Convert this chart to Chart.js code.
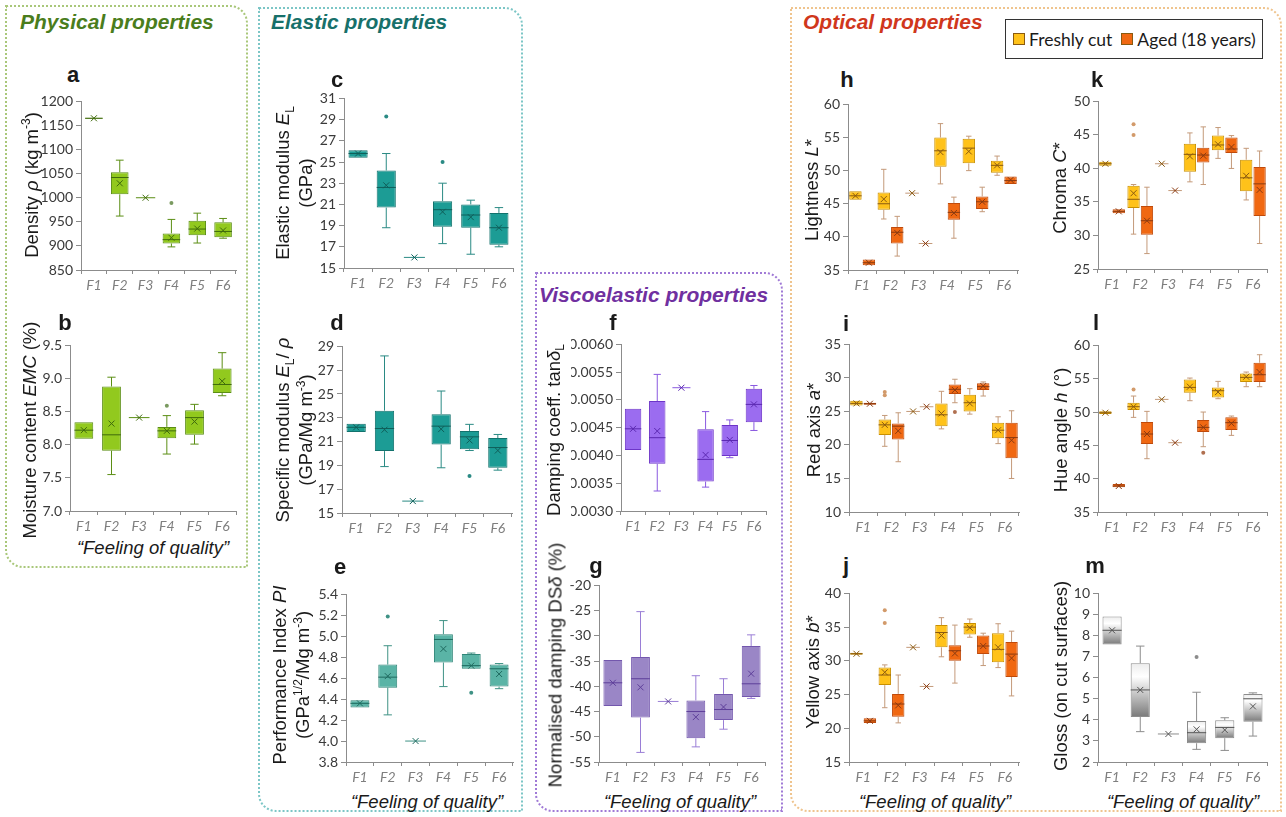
<!DOCTYPE html>
<html>
<head>
<meta charset="utf-8">
<script src="https://cdn.jsdelivr.net/npm/chart.js@4.4.0/dist/chart.umd.min.js"></script>
<style>
body{margin:0;background:#fff;width:1286px;height:817px;position:relative;overflow:hidden;font-family:"Liberation Sans",Arial,sans-serif;color:#1a1a1a;}
.frame{position:absolute;border:2px dotted;border-radius:0 18px 0 18px;box-sizing:border-box;}
.ttl{position:absolute;font-weight:bold;font-style:italic;font-size:21px;white-space:nowrap;line-height:24px;}
.let{position:absolute;font-weight:bold;font-size:22px;transform:translate(-50%,-50%);}
.yt{position:absolute;font-size:18.5px;white-space:nowrap;text-align:center;line-height:23px;transform:translate(-50%,-50%) rotate(-90deg);}
.fq{position:absolute;font-style:italic;font-size:18.5px;transform:translate(-50%,-50%);white-space:nowrap;}
sup,sub{font-size:0.65em;line-height:0;}
canvas{position:absolute;}
#legend{position:absolute;left:1005px;top:19px;width:258px;height:40px;border:1px solid #333;box-sizing:border-box;display:flex;align-items:center;font-family:Lato,sans-serif;font-size:17.5px;white-space:nowrap;}
#legend span.sq{display:inline-block;flex:none;width:10px;height:10px;border:1px solid #8a5a10;margin:0 4px 0 7px;}
</style>
</head>
<body>
<div class="frame" style="left:5px;top:5px;width:243px;height:563px;border-color:#a9c77a"></div>
<div class="frame" style="left:258px;top:7px;width:265px;height:805px;border-color:#7cc6c6"></div>
<div class="frame" style="left:535px;top:272px;width:248px;height:540px;border-color:#a07ad6"></div>
<div class="frame" style="left:790px;top:7px;width:492px;height:805px;border-color:#efc48e"></div>

<div class="ttl" style="left:20px;top:10px;color:#4a7d1c">Physical properties</div>
<div class="ttl" style="left:271px;top:10px;color:#17706a">Elastic properties</div>
<div class="ttl" style="left:539px;top:283px;color:#7030a0">Viscoelastic properties</div>
<div class="ttl" style="left:803px;top:10px;color:#d0371c">Optical properties</div>

<div id="legend"><span class="sq" style="background:#ffc21a"></span><span>Freshly cut</span><span class="sq" style="background:#f06812;margin-left:9px"></span><span>Aged (18 years)</span></div>

<script>
const categories = ['F1', 'F2', 'F3', 'F4', 'F5', 'F6'];
// each row: [min, q1, median, q3, max, mean]
const densityBox = [[1164, 1164, 1165, 1166, 1166, 1165], [962, 1007, 1042, 1053, 1078, 1030], [1000, 1000, 1000, 1000, 1000, 1000], [898, 905, 913, 926, 955, 917], [906, 922, 935, 952, 968, 936], [916, 918, 930, 949, 957, 932]];
const densityOut = [[], [], [], [989], [], []];
const emcBox = [[8.09, 8.09, 8.22, 8.34, 8.34, 8.22], [7.55, 7.91, 8.15, 8.88, 9.02, 8.32], [8.41, 8.41, 8.41, 8.41, 8.41, 8.41], [7.86, 8.10, 8.21, 8.27, 8.44, 8.21], [8.01, 8.15, 8.41, 8.52, 8.61, 8.35], [8.74, 8.78, 8.91, 9.15, 9.39, 8.96]];
const emcOut = [[], [], [], [8.59], [], []];
const modulusBox = [[25.4, 25.4, 25.8, 26.1, 26.1, 25.8], [18.8, 20.7, 22.6, 24.2, 25.8, 22.8], [16.0, 16.0, 16.0, 16.0, 16.0, 16.0], [17.3, 18.9, 20.5, 21.3, 23.0, 20.3], [16.3, 18.8, 20.0, 21.0, 21.4, 19.8], [17.0, 17.2, 18.8, 20.2, 20.7, 18.8]];
const modulusOut = [[], [29.3], [], [25.0], [], []];
const specificBox = [[21.8, 21.8, 22.2, 22.5, 22.5, 22.2], [18.9, 20.2, 22.1, 23.6, 28.2, 22.0], [16.0, 16.0, 16.0, 16.0, 16.0, 16.0], [18.8, 20.75, 22.3, 23.3, 25.25, 22.05], [20.25, 20.35, 21.4, 21.9, 22.45, 21.1], [18.6, 18.8, 20.5, 21.3, 21.6, 20.25]];
const specificOut = [[], [], [], [], [18.1], []];
const perfBox = [[4.32, 4.32, 4.36, 4.39, 4.39, 4.36], [4.25, 4.51, 4.61, 4.73, 4.91, 4.62], [4.0, 4.0, 4.0, 4.0, 4.0, 4.0], [4.52, 4.75, 4.97, 5.02, 5.15, 4.88], [4.69, 4.69, 4.72, 4.83, 4.84, 4.72], [4.50, 4.52, 4.69, 4.73, 4.74, 4.64]];
const perfOut = [[], [5.19], [], [], [4.46], []];
const tanBox = [[0.00410, 0.00410, 0.00448, 0.00484, 0.00484, 0.00448], [0.00336, 0.00385, 0.00432, 0.00498, 0.00546, 0.00444], [0.00522, 0.00522, 0.00522, 0.00522, 0.00522, 0.00522], [0.00343, 0.00353, 0.00393, 0.00447, 0.00479, 0.00401], [0.00396, 0.00399, 0.00427, 0.00455, 0.00464, 0.00428], [0.00445, 0.00460, 0.00492, 0.00520, 0.00526, 0.00492]];
const dampBox = [[-43.9, -43.9, -39.3, -34.8, -34.8, -39.3], [-53.1, -46.2, -38.5, -34.2, -25.2, -40.2], [-43.0, -43.0, -43.0, -43.0, -43.0, -43.0], [-52.0, -50.3, -45.0, -42.8, -37.9, -46.1], [-48.5, -46.7, -44.6, -41.5, -38.5, -44.1], [-42.4, -42.1, -39.5, -32.0, -29.8, -37.5]];
const lightFresh = [[45.6, 45.6, 46.2, 46.9, 46.9, 46.2], [42.7, 44.1, 45.0, 46.7, 50.2, 45.7], [46.6, 46.6, 46.6, 46.6, 46.6, 46.6], [48.0, 50.6, 53.0, 55.0, 57.1, 52.8], [50.0, 51.1, 53.4, 54.8, 55.2, 52.9], [49.3, 49.7, 50.8, 51.5, 52.2, 50.8]];
const lightAged = [[35.7, 35.7, 36.1, 36.6, 36.6, 36.1], [37.1, 39.0, 40.7, 41.5, 43.1, 40.6], [39.0, 39.0, 39.0, 39.0, 39.0, 39.0], [39.8, 42.6, 43.7, 45.1, 46.0, 43.6], [43.8, 44.2, 45.3, 46.1, 47.5, 45.3], [48.0, 48.0, 48.5, 49.1, 49.1, 48.6]];
const chromaFresh = [[40.4, 40.4, 40.7, 41.0, 41.0, 40.7], [30.2, 34.1, 35.4, 37.4, 37.6, 36.3], [40.7, 40.7, 40.7, 40.7, 40.7, 40.7], [38.0, 39.5, 42.1, 43.7, 45.3, 41.8], [41.5, 42.7, 43.5, 44.9, 46.1, 43.6], [35.3, 36.6, 38.6, 41.3, 43.0, 38.9]];
const chromaFreshOut = [[], [45.0, 46.6], [], [], [], []];
const chromaAged = [[33.3, 33.3, 33.6, 33.9, 33.9, 33.6], [27.3, 30.1, 32.2, 34.4, 37.2, 32.2], [36.7, 36.7, 36.7, 36.7, 36.7, 36.7], [37.6, 40.9, 42.0, 43.1, 46.2, 41.9], [40.0, 42.3, 42.9, 44.6, 44.9, 43.2], [28.8, 32.9, 37.7, 40.2, 42.6, 36.8]];
const redFresh = [[25.9, 25.9, 26.2, 26.6, 26.6, 26.2], [19.8, 21.5, 23.0, 23.8, 24.4, 23.0], [25.0, 25.0, 25.0, 25.0, 25.0, 25.0], [22.4, 22.8, 24.5, 26.2, 28.0, 24.7], [24.6, 25.0, 26.3, 27.5, 28.4, 26.2], [20.2, 21.0, 22.2, 23.3, 24.2, 22.2]];
const redFreshOut = [[], [27.4, 27.9], [], [], [], []];
const redAged = [[26.0, 26.0, 26.15, 26.3, 26.3, 26.15], [17.5, 20.8, 22.8, 23.2, 24.8, 22.1], [25.7, 25.7, 25.7, 25.7, 25.7, 25.7], [26.3, 27.6, 28.3, 29.0, 29.8, 28.2], [27.3, 28.2, 28.7, 29.2, 29.4, 28.8], [15.0, 18.0, 21.1, 23.3, 25.1, 20.7]];
const redAgedOut = [[], [], [], [24.9], [], []];
const hueFresh = [[49.7, 49.7, 49.9, 50.1, 50.1, 49.9], [49.2, 50.3, 50.8, 51.4, 52.4, 50.8], [51.9, 51.9, 51.9, 51.9, 51.9, 51.9], [51.7, 52.9, 53.7, 54.9, 55.1, 53.8], [52.0, 52.2, 53.2, 53.7, 54.6, 53.0], [53.8, 54.5, 55.2, 55.8, 56.0, 55.3]];
const hueFreshOut = [[], [53.4], [], [], [], []];
const hueAged = [[38.7, 38.7, 38.9, 39.2, 39.2, 38.9], [43.0, 45.2, 46.7, 48.5, 50.1, 46.7], [45.4, 45.4, 45.4, 45.4, 45.4, 45.4], [44.8, 47.0, 47.7, 48.8, 50.0, 47.7], [46.5, 47.3, 48.4, 49.2, 49.4, 48.3], [53.8, 54.5, 55.6, 57.4, 58.6, 56.0]];
const hueAgedOut = [[], [], [], [43.9], [], []];
const yellowFresh = [[30.9, 30.9, 31.05, 31.2, 31.2, 31.05], [23.05, 26.4, 27.9, 29.0, 29.4, 28.3], [32.0, 32.0, 32.0, 32.0, 32.0, 32.0], [30.6, 32.0, 34.2, 35.3, 36.4, 33.75], [33.5, 33.9, 35.0, 35.6, 36.2, 34.9], [29.0, 29.8, 31.7, 34.1, 35.5, 32.0]];
const yellowFreshOut = [[], [35.6, 37.5], [], [], [], []];
const yellowAged = [[20.8, 20.8, 21.1, 21.5, 21.5, 21.1], [20.8, 21.7, 23.6, 25.1, 27.9, 23.4], [26.2, 26.2, 26.2, 26.2, 26.2, 26.2], [26.7, 30.0, 31.5, 32.3, 35.3, 31.1], [29.3, 31.0, 32.2, 33.75, 34.1, 32.2], [24.8, 27.6, 31.0, 32.8, 34.4, 30.4]];
const glossBox = [[7.58, 7.58, 8.25, 8.9, 8.9, 8.25], [3.44, 4.14, 5.42, 6.69, 7.5, 5.42], [3.33, 3.33, 3.33, 3.33, 3.33, 3.33], [2.6, 2.89, 3.39, 3.94, 5.31, 3.55], [2.55, 3.13, 3.64, 3.98, 4.1, 3.52], [3.23, 3.91, 5.0, 5.23, 5.28, 4.64]];
const glossOut = [[], [], [], [6.98], [], []];
const none = [[], [], [], [], [], []];

// y axis ranges: [min, max, step]
const densityTicks = [850, 1200, 50];
const emcTicks = [7.0, 9.5, 0.5];
const modulusTicks = [15, 31, 2];
const specificTicks = [15, 29, 2];
const perfTicks = [3.8, 5.4, 0.2];
const tanTicks = [0.003, 0.006, 0.0005];
const dampTicks = [-55, -20, 5];
const lightTicks = [35, 60, 5];
const chromaTicks = [25, 50, 5];
const redTicks = [10, 35, 5];
const hueTicks = [35, 60, 5];
const yellowTicks = [15, 40, 5];
const glossTicks = [2, 10, 1];

const AX = '#8c8c8c';
const YW = 50, PT = 10, PR = 4, XH = 26;

function glossFill(c) {
  if (c.type !== 'data' || !c.chart.chartArea) return '#cccccc';
  const y = c.chart.scales.y;
  const g = c.chart.ctx.createLinearGradient(0, y.getPixelForValue(c.raw[1]), 0, y.getPixelForValue(c.raw[0]));
  g.addColorStop(0, '#ececec');
  g.addColorStop(0.25, '#ffffff');
  g.addColorStop(1, '#7a7a7a');
  return g;
}

const GREEN = {fill: '#92c91e', line: '#5b8e14', whisker: '#5b8e14', median: '#3f6a0c', dot: '#7a9a60'};
const TEAL = {fill: '#1c9c95', line: '#13726d', whisker: '#2a8a84', median: '#0f5f5a', dot: '#2a8a84'};
const TEAL2 = {fill: '#5ab4a6', line: '#2f8578', whisker: '#3f9285', median: '#1f6b60', dot: '#3f9285'};
const VIOLET = {fill: '#9b6cf0', line: '#6d35c8', whisker: '#8a5ae0', median: '#5a28b0', dot: '#8a5ae0'};
const VIOLET2 = {fill: '#9a86c6', line: '#7357ad', whisker: '#9a7ed6', median: '#5e3f9a', dot: '#9a7ed6'};
const FRESH = {fill: '#ffc21a', line: '#c99000', whisker: '#c49a7a', median: '#8a5a10', dot: '#d29a6a'};
const AGED = {fill: '#f06812', line: '#c04a0a', whisker: '#c49a7a', median: '#8a3a10', dot: '#b07050'};
const GLOSS = {fill: glossFill, line: '#8c8c8c', whisker: '#8c8c8c', median: '#555555', dot: '#8c8c8c'};

const boxPlot = {
  id: 'boxPlot',
  afterDatasetsDraw(chart) {
    const ctx = chart.ctx, ys = chart.scales.y;
    const py = v => ys.getPixelForValue(v);
    chart.data.datasets.forEach((ds, i) => {
      chart.getDatasetMeta(i).data.forEach((bar, j) => {
        const [mn, q1, md, q3, mx, mean] = ds.stats[j];
        const x = bar.x, hw = bar.width / 2, cap = bar.width * 0.22;
        ctx.save();
        ctx.lineWidth = 1;
        ctx.strokeStyle = ds.whisker;
        ctx.beginPath();
        if (mx > q3) {
          ctx.moveTo(x, py(q3)); ctx.lineTo(x, py(mx));
          ctx.moveTo(x - cap, py(mx)); ctx.lineTo(x + cap, py(mx));
        }
        if (mn < q1) {
          ctx.moveTo(x, py(q1)); ctx.lineTo(x, py(mn));
          ctx.moveTo(x - cap, py(mn)); ctx.lineTo(x + cap, py(mn));
        }
        ctx.stroke();
        ctx.strokeStyle = q3 > q1 ? ds.median : ds.whisker;
        const half = q3 > q1 ? hw : hw * 1.1;
        ctx.beginPath();
        ctx.moveTo(x - half, py(md)); ctx.lineTo(x + half, py(md));
        ctx.stroke();
        const m = py(mean), s = 3;
        ctx.strokeStyle = ds.median;
        ctx.beginPath();
        ctx.moveTo(x - s, m - s); ctx.lineTo(x + s, m + s);
        ctx.moveTo(x + s, m - s); ctx.lineTo(x - s, m + s);
        ctx.stroke();
        ctx.fillStyle = ds.dot;
        ds.outliers[j].forEach(o => {
          ctx.beginPath(); ctx.arc(x, py(o), 2, 0, Math.PI * 2); ctx.fill();
        });
        ctx.restore();
      });
    });
  }
};
Chart.register(boxPlot);

function series(box, out, col) {
  return {box: box, out: out, col: col};
}

function panel(pos, ticks, decimals, list) {
  const [axisX, top, bottom, right] = pos;
  const c = document.createElement('canvas');
  c.width = right - axisX + YW + PR;
  c.height = bottom - top + PT + XH;
  c.style.left = (axisX - YW) + 'px';
  c.style.top = (top - PT) + 'px';
  document.body.appendChild(c);
  const two = list.length > 1;
  new Chart(c, {
    type: 'bar',
    data: {
      labels: categories,
      datasets: list.map(s => ({
        data: s.box.map(b => [b[1], b[3]]),
        stats: s.box,
        outliers: s.out,
        whisker: s.col.whisker,
        median: s.col.median,
        dot: s.col.dot,
        backgroundColor: s.col.fill,
        borderColor: s.col.line,
        borderWidth: 1,
        borderSkipped: false,
        barPercentage: two ? 0.92 : 0.68,
        categoryPercentage: two ? 0.95 : 1
      }))
    },
    options: {
      responsive: false,
      animation: false,
      devicePixelRatio: 1,
      layout: {padding: {top: PT, right: PR, left: 0, bottom: 0}},
      plugins: {legend: {display: false}, tooltip: {enabled: false}},
      scales: {
        x: {
          grid: {drawOnChartArea: false, tickLength: 4, color: AX},
          border: {color: AX},
          ticks: {font: {family: 'Lato', style: 'italic', size: 14}, color: '#7f7f7f', padding: 3, maxRotation: 0, autoSkip: false},
          afterFit: s => { s.height = XH; }
        },
        y: {
          min: ticks[0], max: ticks[1],
          ticks: {stepSize: ticks[2], autoSkip: false, font: {family: 'Lato', size: 14}, color: '#3a3a3a', padding: 3,
            callback: v => Number(v).toFixed(decimals)},
          grid: {drawOnChartArea: false, tickLength: 5, color: AX},
          border: {color: AX},
          afterFit: s => { s.width = YW; }
        }
      }
    }
  });
}

panel([81, 100, 270, 236], densityTicks, 0, [series(densityBox, densityOut, GREEN)]);
panel([70, 344, 511, 236], emcTicks, 1, [series(emcBox, emcOut, GREEN)]);
panel([344, 97, 268, 513], modulusTicks, 0, [series(modulusBox, modulusOut, TEAL)]);
panel([342, 345, 513, 512], specificTicks, 0, [series(specificBox, specificOut, TEAL)]);
panel([346, 593, 762, 513], perfTicks, 1, [series(perfBox, perfOut, TEAL2)]);
panel([621, 343, 511, 766], tanTicks, 4, [series(tanBox, none, VIOLET)]);
panel([599, 584, 762, 765], dampTicks, 0, [series(dampBox, none, VIOLET2)]);
panel([848, 103, 270, 1018], lightTicks, 0, [series(lightFresh, none, FRESH), series(lightAged, none, AGED)]);
panel([1098, 100, 269, 1267], chromaTicks, 0, [series(chromaFresh, chromaFreshOut, FRESH), series(chromaAged, none, AGED)]);
panel([849, 343, 512, 1019], redTicks, 0, [series(redFresh, redFreshOut, FRESH), series(redAged, redAgedOut, AGED)]);
panel([1098, 344, 512, 1267], hueTicks, 0, [series(hueFresh, hueFreshOut, FRESH), series(hueAged, hueAgedOut, AGED)]);
panel([849, 592, 762, 1019], yellowTicks, 0, [series(yellowFresh, yellowFreshOut, FRESH), series(yellowAged, none, AGED)]);
panel([1098, 592, 762, 1267], glossTicks, 0, [series(glossBox, glossOut, GLOSS)]);

// text labels around the panels
const letters = [['a', 73, 75], ['b', 65, 323], ['c', 337, 80], ['d', 337, 323], ['e', 340, 567], ['f', 613, 323], ['g', 596, 566], ['h', 847, 80], ['k', 1097, 80], ['i', 846, 324], ['l', 1096, 323], ['j', 846, 566], ['m', 1095, 566]];
letters.forEach(([t, x, y]) => {
  const d = document.createElement('div');
  d.className = 'let'; d.textContent = t;
  d.style.left = x + 'px'; d.style.top = y + 'px';
  document.body.appendChild(d);
});
const yTitles = [
  ['Density <i>ρ</i> (kg m<sup>-3</sup>)', 31, 185],
  ['Moisture content <i>EMC</i> (%)', 29, 430],
  ['Elastic modulus <i>E</i><sub>L</sub><br>(GPa)', 294, 183],
  ['Specific modulus <i>E</i><sub>L</sub>/ <i>ρ</i><br>(GPa/Mg m<sup>-3</sup>)', 294, 430],
  ['Performance Index <i>PI</i><br>(GPa<sup>1/2</sup>/Mg m<sup>-3</sup>)', 291, 675],
  ['Damping coeff. tan<i>δ</i><sub>L</sub>', 553, 430],
  ['Normalised damping DS<i>δ</i> (%)', 555, 665],
  ['Lightness <i>L</i>*', 811, 190],
  ['Chroma <i>C</i>*', 1059, 188],
  ['Red axis <i>a</i>*', 813, 430],
  ['Hue angle <i>h</i> (°)', 1060, 430],
  ['Yellow axis <i>b</i>*', 812, 672],
  ['Gloss (on cut surfaces)', 1060, 676]
];
yTitles.forEach(([h, x, y]) => {
  const d = document.createElement('div');
  d.className = 'yt'; d.innerHTML = h;
  d.style.left = x + 'px'; d.style.top = y + 'px';
  document.body.appendChild(d);
});
[[153, 548], [427, 802], [680, 802], [935, 802], [1183, 802]].forEach(([x, y]) => {
  const d = document.createElement('div');
  d.className = 'fq'; d.textContent = '\u201cFeeling of quality\u201d';
  d.style.left = x + 'px'; d.style.top = y + 'px';
  document.body.appendChild(d);
});
</script>
</body>
</html>
